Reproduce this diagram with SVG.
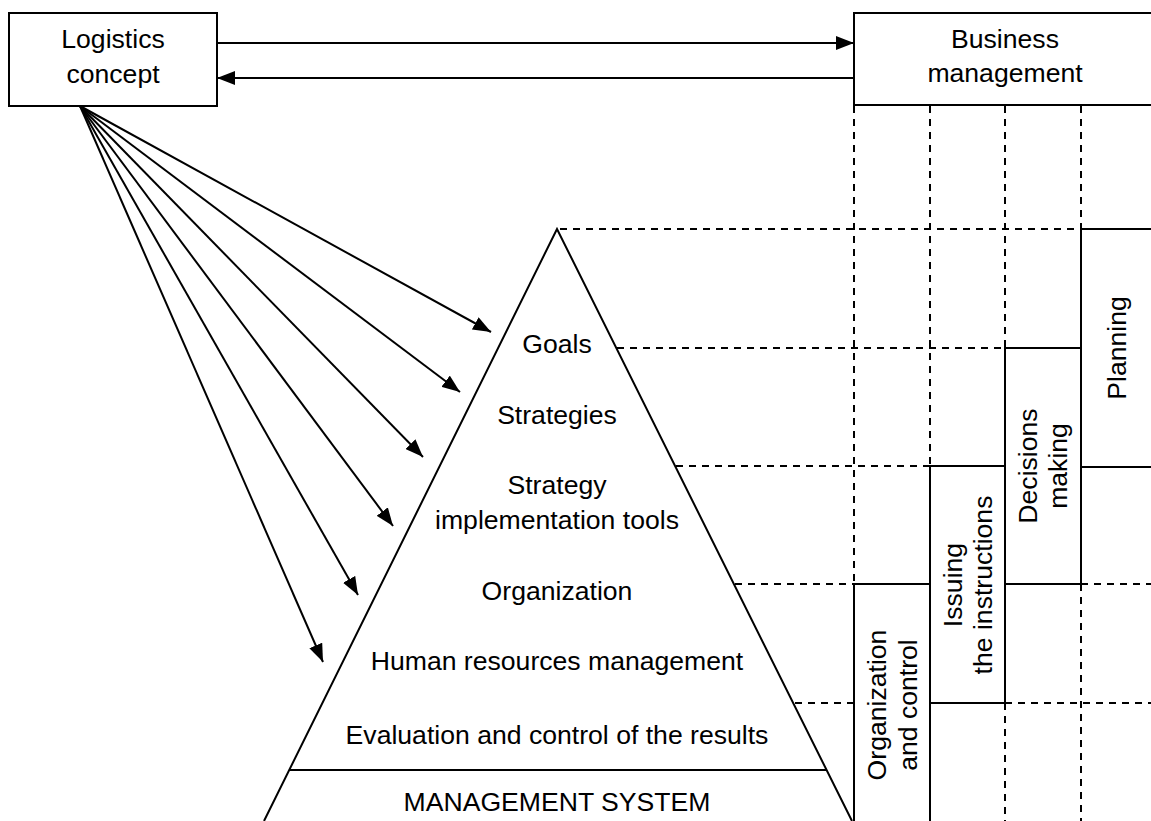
<svg xmlns="http://www.w3.org/2000/svg" width="1151" height="821" viewBox="0 0 1151 821">
<style>
text{font-family:"Liberation Sans",Arial,sans-serif;font-size:26.6px;fill:#000;text-anchor:middle}
.s{stroke:#000;stroke-width:2;fill:none}
.d{stroke:#000;stroke-width:2;fill:none;stroke-dasharray:7,6}
</style>
<defs>
<marker id="ah" viewBox="0 0 18 14" refX="18" refY="7" markerWidth="18" markerHeight="14" markerUnits="userSpaceOnUse" orient="auto">
<path d="M0,0 L18,7 L0,14 z" fill="#000"/>
</marker>
</defs>
<rect width="1151" height="821" fill="#fff"/>
<g id="grid">
<path class="d" d="M560,229 H1081 M617,348 H1005 M676,466 H930 M735,584 H854 M1081,584 H1151 M795,703 H854 M1005,703 H1151"/>
<path class="d" d="M854,106 V584 M930,106 V466 M1005,106 V348 M1005,703 V821 M1081,106 V229 M1081,584 V821"/>
</g>
<g id="logistics">
<rect class="s" x="9" y="13" width="208" height="93"/>
<text x="113" y="48">Logistics</text>
<text x="113" y="83">concept</text>
</g>
<g id="business">
<rect class="s" x="854" y="13" width="310" height="92"/>
<text x="1005" y="48">Business</text>
<text x="1005" y="82">management</text>
</g>
<g id="pyramid">
<path class="s" d="M264,821 L557,229 L852,821 M289,770 H827"/>
<text x="557" y="353">Goals</text>
<text x="557" y="424">Strategies</text>
<text x="557" y="494">Strategy</text>
<text x="557" y="529">implementation tools</text>
<text x="557" y="600">Organization</text>
<text x="557" y="670">Human resources management</text>
<text x="557" y="744">Evaluation and control of the results</text>
<text x="557" y="811">MANAGEMENT SYSTEM</text>
</g>
<g id="planning">
<path class="s" d="M1151,229 H1081 V467 H1151"/>
<text transform="translate(1126,348) rotate(-90)">Planning</text>
</g>
<g id="decisions">
<rect class="s" x="1005" y="348" width="76" height="236"/>
<text transform="translate(1037,466) rotate(-90)">Decisions</text>
<text transform="translate(1067,466) rotate(-90)">making</text>
</g>
<g id="issuing">
<rect class="s" x="930" y="466" width="75" height="237"/>
<text transform="translate(962,585) rotate(-90)">Issuing</text>
<text transform="translate(992,585) rotate(-90)">the instructions</text>
</g>
<g id="orgcontrol">
<path class="s" d="M854,821 V584 H930 V821"/>
<text transform="translate(886,705) rotate(-90)">Organization</text>
<text transform="translate(917,705) rotate(-90)">and control</text>
</g>
<g id="connectors">
<line class="s" x1="217" y1="43" x2="854" y2="43" marker-end="url(#ah)"/>
<line class="s" x1="854" y1="78" x2="217" y2="78" marker-end="url(#ah)"/>
<line class="s" x1="80" y1="106" x2="491" y2="332" marker-end="url(#ah)"/>
<line class="s" x1="80" y1="106" x2="460" y2="392" marker-end="url(#ah)"/>
<line class="s" x1="80" y1="106" x2="423" y2="457" marker-end="url(#ah)"/>
<line class="s" x1="80" y1="106" x2="393" y2="526" marker-end="url(#ah)"/>
<line class="s" x1="80" y1="106" x2="358" y2="595" marker-end="url(#ah)"/>
<line class="s" x1="80" y1="106" x2="323" y2="662" marker-end="url(#ah)"/>
</g>
</svg>
